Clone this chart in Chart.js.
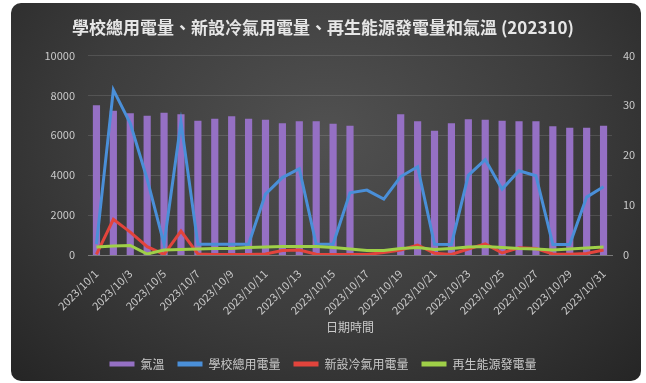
<!DOCTYPE html>
<html>
<head>
<meta charset="utf-8">
<script src="https://cdn.jsdelivr.net/npm/chart.js@4/dist/chart.umd.min.js"></script>
<style>
  html, body { margin: 0; padding: 0; background: #fff; overflow: hidden; }
  #card {
    position: absolute; left: 11px; top: 3px; width: 630px; height: 378px;
    border-radius: 10px;
    background: radial-gradient(ellipse at 50% 35%, #515151 0%, #3c3c3c 55%, #252525 100%);
  }
  #wrap { position: absolute; left: 0; top: 0; width: 646px; height: 380px; }
</style>
</head>
<body>
<div id="card"></div>
<div id="wrap"><canvas id="chart"></canvas></div>
<script>
// 資料 (2023/10)
const dates = [];
for (let d = 1; d <= 31; d++) dates.push('2023/10/' + d);

const temperature = [30.0, 28.9, 28.4, 27.9, 28.5, 28.2, 26.9, 27.3, 27.8, 27.3,
  27.1, 26.4, 26.8, 26.8, 26.3, 25.9, null, null, 28.2, 26.8,
  24.9, 26.4, 27.2, 27.1, 26.9, 26.8, 26.8, 25.8, 25.5, 25.5, 25.9];

const schoolTotal = [550, 8270, 6600, 3800, 550, 6650, 540, 540, 540, 540,
  3050, 3880, 4320, 540, 540, 3120, 3250, 2800, 3930, 4420,
  540, 530, 3990, 4780, 3300, 4220, 3970, 530, 530, 2900, 3420];

const newAC = [30, 1790, 1150, 420, 30, 1200, 50, 30, 30, 30,
  50, 230, 250, 40, 30, 30, 30, 120, 250, 500,
  90, 30, 300, 560, 100, 360, 320, 50, 40, 80, 250];

const renewable = [400, 450, 480, 50, 250, 280, 300, 320, 330, 370,
  400, 420, 420, 420, 380, 300, 220, 230, 330, 370,
  270, 330, 400, 420, 380, 330, 300, 250, 300, 350, 400];

const leftTicks = [0, 2000, 4000, 6000, 8000, 10000];
const rightTicks = [0, 10, 20, 30, 40];

const FONT = "'Noto Sans CJK TC', 'Noto Sans', sans-serif";
const TEXT = '#c9c9c9';

const ctx = document.getElementById('chart');
const chart = new Chart(ctx, {
  type: 'bar',
  data: {
    labels: dates,
    datasets: [
      {
        type: 'bar', label: '氣溫', data: temperature, yAxisID: 'y1',
        backgroundColor: '#9570c4', borderWidth: 0,
        barPercentage: 0.85, categoryPercentage: 0.5, order: 4
      },
      {
        type: 'line', label: '學校總用電量', data: schoolTotal, yAxisID: 'y',
        borderColor: '#4a8fd8', backgroundColor: '#4a8fd8', borderWidth: 3,
        pointRadius: 0, tension: 0, order: 3
      },
      {
        type: 'line', label: '新設冷氣用電量', data: newAC, yAxisID: 'y',
        borderColor: '#e2443c', backgroundColor: '#e2443c', borderWidth: 3,
        pointRadius: 0, tension: 0, order: 2
      },
      {
        type: 'line', label: '再生能源發電量', data: renewable, yAxisID: 'y',
        borderColor: '#9fd048', backgroundColor: '#9fd048', borderWidth: 3,
        pointRadius: 0, tension: 0, order: 1
      }
    ]
  },
  options: {
    responsive: true,
    maintainAspectRatio: false,
    animation: false,
    layout: { padding: { left: 0, right: 0, top: 0, bottom: 0 } },
    plugins: {
      title: {
        display: true,
        text: '學校總用電量、新設冷氣用電量、再生能源發電量和氣溫 (202310)',
        color: '#e6e6e6',
        font: { family: FONT, size: 17, weight: 'bold' },
        padding: { top: 17, bottom: 18 }
      },
      legend: {
        position: 'bottom',
        labels: {
          color: TEXT,
          font: { family: FONT, size: 12 },
          boxWidth: 25,
          boxHeight: 5,
          padding: 13,
          generateLabels(c) {
            return c.data.datasets.map((ds, i) => ({
              text: ds.label,
              fillStyle: ds.type === 'bar' ? ds.backgroundColor : ds.borderColor,
              strokeStyle: 'transparent',
              lineWidth: 0,
              fontColor: TEXT,
              hidden: false,
              datasetIndex: i
            }));
          }
        }
      },
      tooltip: { enabled: false }
    },
    scales: {
      x: {
        grid: { display: false },
        border: { display: true, color: '#7a7a7a', width: 1 },
        ticks: {
          color: TEXT,
          font: { family: FONT, size: 11 },
          autoSkip: false,
          maxRotation: 45,
          minRotation: 45,
          padding: 4,
          callback(v, i) { return i % 2 === 0 ? dates[i] : ''; }
        },
        title: {
          display: true, text: '日期時間', color: TEXT,
          font: { family: FONT, size: 12 },
          padding: { top: 0, bottom: 10 }
        },
        afterFit(s) { s.height = 90; }
      },
      y: {
        position: 'left',
        min: 0, max: 10000,
        afterBuildTicks(s) { s.ticks = leftTicks.map(v => ({ value: v })); },
        grid: { color: 'rgba(255,255,255,0.12)', drawTicks: false },
        border: { display: false },
        ticks: {
          color: TEXT, font: { family: FONT, size: 11 }, padding: 13,
          callback(v) { return String(v); }
        },
        afterFit(s) { s.width = 88; }
      },
      y1: {
        position: 'right',
        min: 0, max: 40,
        afterBuildTicks(s) { s.ticks = rightTicks.map(v => ({ value: v })); },
        grid: { display: false, drawTicks: false },
        border: { display: false },
        ticks: {
          color: TEXT, font: { family: FONT, size: 11 }, padding: 11,
          callback(v) { return String(v); }
        },
        afterFit(s) { s.width = 34; }
      }
    }
  }
});
</script>
</body>
</html>
